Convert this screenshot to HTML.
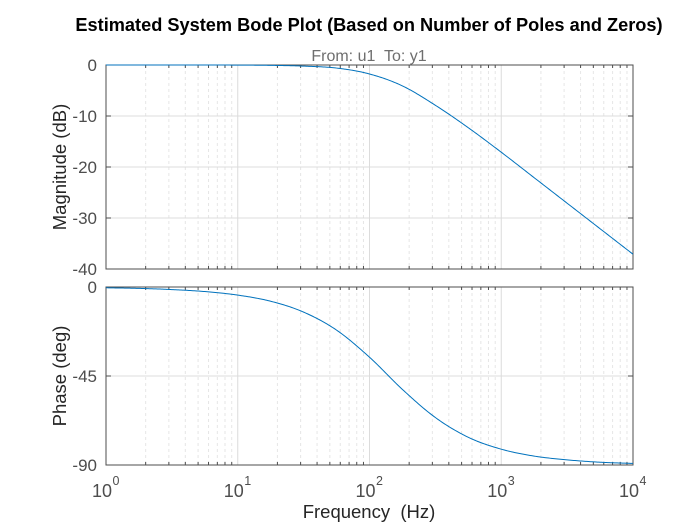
<!DOCTYPE html>
<html><head><meta charset="utf-8"><style>
body{margin:0;background:#fff;}
svg text{font-family:"Liberation Sans",Arial,sans-serif;}
</style></head><body>
<svg id="c" width="700" height="525" xmlns="http://www.w3.org/2000/svg">
<rect width="700" height="525" fill="#fff"/>
<text x="369" y="31" text-anchor="middle" font-size="18.2" font-weight="bold" fill="#000">Estimated System Bode Plot (Based on Number of Poles and Zeros)</text>
<text x="369" y="61" text-anchor="middle" font-size="16" fill="#6e6e6e" xml:space="preserve">From: u1  To: y1</text>
<text transform="translate(66,167) rotate(-90)" text-anchor="middle" font-size="18.5" fill="#262626">Magnitude (dB)</text>
<text transform="translate(66,376) rotate(-90)" text-anchor="middle" font-size="18.5" fill="#262626">Phase (deg)</text>
<text x="369" y="518" text-anchor="middle" font-size="18.5" fill="#262626" xml:space="preserve">Frequency  (Hz)</text>
<g id="g"></g>
</svg>
<script>
const logFreq=[0,0.25,0.5,0.75,1,1.25,1.5,1.75,2,2.25,2.5,2.75,3,3.25,3.5,3.75,4];
const magDb=[0,0,0,0,-0.02,-0.07,-0.22,-0.6,-1.76,-4.1,-7.9,-12.3,-17.1,-22.1,-27.1,-32.1,-37.1];
const phaseDeg=[-0.4,-0.7,-1.3,-2.3,-4.1,-7.2,-12.7,-21.8,-35.5,-51.8,-66,-76,-82,-85.5,-87.4,-88.6,-89.2];
const xTicks=[0,1,2,3,4];
const magTicks=[0,-10,-20,-30,-40];
const phaseTicks=[0,-45,-90];
const NS="http://www.w3.org/2000/svg";
const gRoot=document.getElementById('g');
const X0=106,X1=633;
const xs=v=>X0+(v-0)/(4-0)*(X1-X0);
const pTop={y0:65,y1:269,min:-40,max:0},pBot={y0:287,y1:465,min:-90,max:0};
const ys=(p,v)=>p.y0+(p.max-v)/(p.max-p.min)*(p.y1-p.y0);
function el(t,a,txt){const e=document.createElementNS(NS,t);for(const k in a)e.setAttribute(k,a[k]);if(txt!==undefined)e.textContent=txt;gRoot.appendChild(e);return e;}
function spline(xsA,ysA,v){const n=ysA.length;let i=0;while(i<n-2&&v>xsA[i+1])i++;
 const p1=ysA[i],p2=ysA[i+1];
 const p0=i>0?ysA[i-1]:2*p1-p2;
 const p3=i+2<n?ysA[i+2]:2*p2-p1;
 const t=(v-xsA[i])/(xsA[i+1]-xsA[i]);
 return 0.5*((2*p1)+(-p0+p2)*t+(2*p0-5*p1+4*p2-p3)*t*t+(-p0+3*p1-3*p2+p3)*t*t*t);}
function panel(p,ticks,vals,name){
 const r=el('rect',{x:X0,y:p.y0,width:X1-X0,height:p.y1-p.y0,fill:'#fff'});
 
 for(let d=0;d<4;d++)for(let m=2;m<=9;m++){const x=xs(d+Math.log10(m));
  const l=el('line',{x1:x,x2:x,y1:p.y0,y2:p.y1,stroke:'#e6e6e6','stroke-dasharray':'3,3','stroke-width':1});
  
  el('line',{x1:x,x2:x,y1:p.y1,y2:p.y1-3,stroke:'#4d4d4d'});el('line',{x1:x,x2:x,y1:p.y0,y2:p.y0+3,stroke:'#4d4d4d'});}
 xTicks.forEach(v=>{const x=xs(v);const l=el('line',{x1:x,x2:x,y1:p.y0,y2:p.y1,stroke:'#dcdcdc'});
  });
 ticks.forEach(v=>{const y=ys(p,v);const l=el('line',{x1:X0,x2:X1,y1:y,y2:y,stroke:'#dcdcdc'});
  
  el('line',{x1:X0,x2:X0+5,y1:y,y2:y,stroke:'#4d4d4d'});el('line',{x1:X1,x2:X1-5,y1:y,y2:y,stroke:'#4d4d4d'});
  const t=el('text',{x:X0-9,y:y+6,'text-anchor':'end','font-size':17,fill:'#4d4d4d'},String(v));
  });
 const b=el('rect',{x:X0,y:p.y0,width:X1-X0,height:p.y1-p.y0,fill:'none',stroke:'#4d4d4d','stroke-width':1});
 
 let d='';for(let i=0;i<=400;i++){const v=4*i/400;const yv=spline(logFreq,vals,v);d+=(i?'L':'M')+xs(v).toFixed(2)+','+ys(p,yv).toFixed(2);}
 const path=el('path',{d:d,fill:'none',stroke:'#0072bd','stroke-width':1});
 
}
panel(pTop,magTicks,magDb,'magnitude');
panel(pBot,phaseTicks,phaseDeg,'phase');
xTicks.forEach(v=>{const x=xs(v);
 const t=el('text',{x:x-4,y:497,'text-anchor':'middle','font-size':18,fill:'#4d4d4d'},'10');
 
 const s=el('text',{x:x+10,y:485,'text-anchor':'middle','font-size':12.5,fill:'#4d4d4d'},String(v));
 });
</script>
</body></html>
